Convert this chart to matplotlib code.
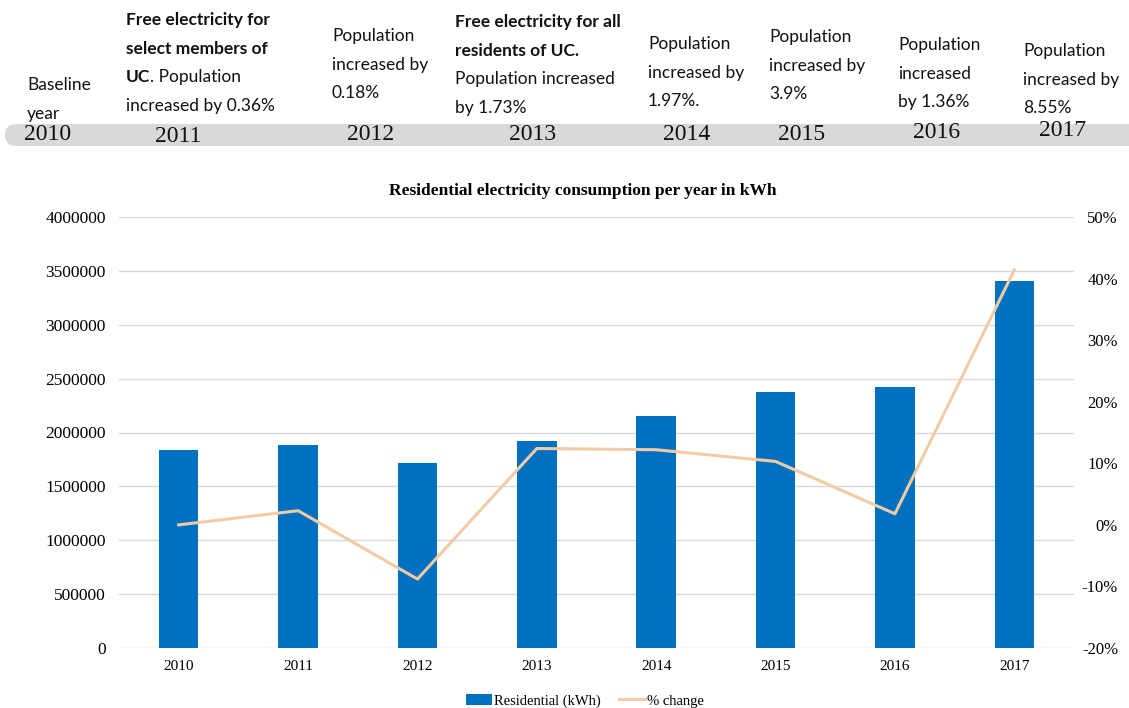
import matplotlib.pyplot as plt
from matplotlib.patches import FancyBboxPatch
from matplotlib.lines import Line2D
from matplotlib.patches import Patch
from matplotlib.ticker import FuncFormatter

W, H = 1129, 708

years = ["2010", "2011", "2012", "2013", "2014", "2015", "2016", "2017"]
residential_kwh = [1837000, 1884000, 1717000, 1921000, 2153000, 2376000, 2422000, 3406000]
pct_change = [0.0, 2.3, -8.8, 12.4, 12.2, 10.3, 1.8, 41.4]

# timeline notes: list of lines, each line a list of (text, bold) runs
notes = [
    [[("Baseline", False)], [("year", False)]],
    [[("Free electricity for", True)], [("select members of", True)],
     [("UC", True), (". Population", False)], [("increased by 0.36%", False)]],
    [[("Population", False)], [("increased by", False)], [("0.18%", False)]],
    [[("Free electricity for all", True)], [("residents of UC.", True)],
     [("Population increased", False)], [("by 1.73%", False)]],
    [[("Population", False)], [("increased by", False)], [("1.97%.", False)]],
    [[("Population", False)], [("increased by", False)], [("3.9%", False)]],
    [[("Population", False)], [("increased", False)], [("by 1.36%", False)]],
    [[("Population", False)], [("increased by", False)], [("8.55%", False)]],
]
# pixel anchors (left x, first line centre y)
note_x = [27, 126, 332, 455, 648, 769, 898, 1023]
note_y = [85, 20, 36, 22, 44, 37, 45, 51]
year_x = [48, 178, 371, 533, 687, 802, 937, 1063]
year_y = [135, 137, 134, 134, 134, 134, 132, 130]

BLUE = "#0070C0"
TAN = "#F2CBA5"
GRID = "#D9D9D9"
SERIF = "Liberation Serif"
SANS = "Lato"


def fx(x):
    return x / W


def fy(y):
    return 1 - y / H


fig = plt.figure(figsize=(W / 100, H / 100), dpi=100)

# grey timeline band
band = FancyBboxPatch((0.05, (H - 146) / 100), 11.6, 0.22,
                      boxstyle="round,pad=0,rounding_size=0.11",
                      transform=fig.dpi_scale_trans, facecolor="#D9D9D9",
                      edgecolor="none", zorder=0)
fig.patches.append(band)

for yr, x, y in zip(years, year_x, year_y):
    fig.text(fx(x), fy(y), yr, ha="center", va="center", fontsize=17,
             family=SERIF, color="#111111")

renderer = fig.canvas.get_renderer()
for lines, x0, y0 in zip(notes, note_x, note_y):
    for i, runs in enumerate(lines):
        x = x0
        y = y0 + i * 28.7
        for txt, bold in runs:
            t = fig.text(fx(x), fy(y), txt, ha="left", va="center", fontsize=12.5,
                         family=SANS, fontweight="bold" if bold else "normal",
                         color="#111111")
            bb = t.get_window_extent(renderer=renderer)
            x += bb.width

# main chart
ax = fig.add_axes([fx(119), fy(648), fx(1074) - fx(119), fy(217) - fy(648)])
xs = range(len(years))
ax.bar(xs, residential_kwh, width=0.33, color=BLUE, zorder=2)
ax.set_xlim(-0.5, len(years) - 0.5)
ax.set_ylim(0, 4000000)
ax.set_yticks(range(0, 4000001, 500000))
ax.yaxis.set_major_formatter(FuncFormatter(lambda v, p: f"{v:.0f}"))
ax.yaxis.grid(True, color=GRID, lw=1)
ax.set_axisbelow(True)
ax.set_xticks(list(xs))
ax.set_xticklabels(years)
for s in ax.spines.values():
    s.set_visible(False)
ax.tick_params(axis="x", length=0, labelsize=11, pad=9)
ax.tick_params(axis="y", length=0, labelsize=12.5, pad=9.4)
for lab in ax.get_xticklabels() + ax.get_yticklabels():
    lab.set_family(SERIF)

ax2 = ax.twinx()
ax2.plot(list(xs), pct_change, color=TAN, lw=2.2, zorder=3)
ax2.set_ylim(-20, 50)
ax2.set_yticks(range(-20, 51, 10))
ax2.yaxis.set_major_formatter(FuncFormatter(lambda v, p: f"{v:.0f}%"))
for s in ax2.spines.values():
    s.set_visible(False)
ax2.tick_params(length=0, labelsize=12, pad=31.7)
for lab in ax2.get_yticklabels():
    lab.set_family(SERIF)
    lab.set_horizontalalignment("right")

fig.text(fx(583), fy(191), "Residential electricity consumption per year in kWh",
         ha="center", va="center", fontsize=12.5, fontweight="bold", family=SERIF)

handles = [Patch(facecolor=BLUE, edgecolor="none"), Line2D([0], [0], color=TAN, lw=2.2)]
fig.legend(handles, ["Residential (kWh)", "% change"], loc="center",
           bbox_to_anchor=(fx(585), fy(701)), ncol=2, frameon=False,
           prop={"family": SERIF, "size": 10.5}, handlelength=1.8,
           handletextpad=0.15, columnspacing=1.2)

fig.savefig("out.png", dpi=100)
